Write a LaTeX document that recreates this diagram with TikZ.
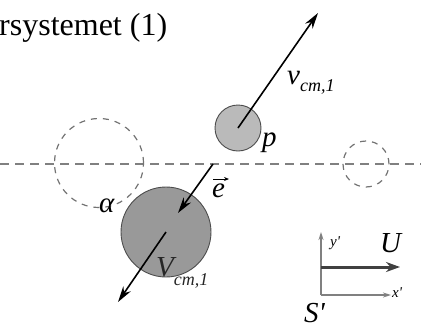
\documentclass[tikz,border=0pt]{standalone}
\usepackage{fontspec}
\setmainfont{Liberation Serif}
\usetikzlibrary{arrows.meta}
\begin{document}
\begin{tikzpicture}[x=1pt,y=-1pt,
  lbl/.style={inner sep=0pt,font=\fontsize{29}{29}\selectfont\itshape},
  sml/.style={inner sep=0pt,font=\fontsize{15}{15}\selectfont\itshape},
  dashline/.style={draw=black!50,line width=1.4pt,dash pattern=on 9pt off 6pt},
  ghost/.style={circle,draw=black!55,line width=1.2pt,dash pattern=on 6pt off 6pt,inner sep=0pt},
  ball/.style={circle,draw=black!70,line width=0.9pt,inner sep=0pt},
  vec/.style={line width=1.6pt,-{Stealth[length=16pt,width=9pt]}},
  axis/.style={draw=black!50,line width=1.5pt,-{Stealth[length=8pt,width=5pt]}}]
\useasboundingbox (0,0) rectangle (421,327);
% title
\node[anchor=base west,inner sep=0pt,font=\fontsize{32}{32}\selectfont] (title) at (-1,35) {rsystemet (1)};
% dashed line
\coordinate (L0) at (0,164);
\coordinate (L1) at (421,164);
\draw[dashline] (L0) -- (L1);
% ghost circles
\node[ghost,minimum size=89pt] (g1) at (99,163) {};
\node[ghost,minimum size=46pt] (g2) at (366,164) {};
% balls
\node[ball,fill=black!27,minimum size=46pt] (p) at (238,128) {};
\node[ball,fill=black!40,minimum size=90pt] (big) at (166,232) {};
% arrows
\coordinate (vtip) at (318,13);
\draw[vec] (p.center) -- (vtip);
\coordinate (e0) at (213,164);
\coordinate (e1) at (178,213);
\draw[vec] (e0) -- (e1);
\coordinate (Vtip) at (118,302);
\draw[vec] (big.center) -- (Vtip);
% labels
\node[lbl,anchor=base west] (lv) at (287,84) {v\raisebox{-7pt}{\fontsize{18}{18}\selectfont cm,1}};
\node[lbl,anchor=base west] (lp) at (262,146) {p};
\node[lbl,anchor=base west] (le) at (212,197) {e};
\coordinate (ea0) at (213,179);
\coordinate (ea1) at (229,179);
\draw[line width=1pt,-{Stealth[length=5pt,width=4pt]}] (ea0) -- (ea1);
\node[lbl,anchor=base west] (la) at (99,212) {α};
\node[lbl,anchor=base west,text=black!85] (lV) at (156,276) {V\raisebox{-9pt}{\fontsize{18}{18}\selectfont cm,1}};
% coordinate system
\coordinate (O) at (321,295);
\coordinate (Y) at (321,232);
\coordinate (X) at (391,295);
\draw[axis] (O) -- (Y);
\draw[axis] (O) -- (X);
\coordinate (U0) at (321,267);
\coordinate (U1) at (400,267);
\draw[draw=black!75,line width=3pt,-{Stealth[length=14pt,width=10pt]}] (U0) -- (U1);
\node[sml,anchor=base west] (ly) at (330,246) {y\textquotesingle};
\node[sml,anchor=base west] (lx) at (392,297) {x\textquotesingle};
\node[lbl,anchor=base west] (lU) at (380,252) {U};
\node[lbl,anchor=base west] (lS) at (304,322) {S\textquotesingle};
\end{tikzpicture}
\end{document}
